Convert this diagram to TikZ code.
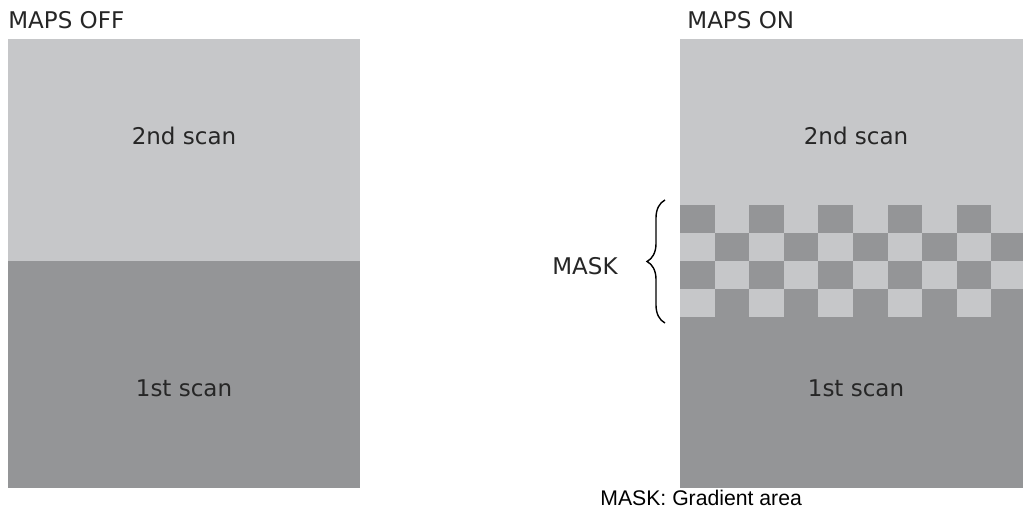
\documentclass[tikz,border=0pt]{standalone}
\usepackage{fontspec}
\setmainfont{DejaVu Sans}
\newfontfamily\arialfont{Liberation Sans}
\usepackage{tikz}
\usetikzlibrary{positioning,decorations.pathreplacing}
\definecolor{scanlight}{HTML}{C6C7C9}
\definecolor{scandark}{HTML}{949597}

\begin{document}
\begin{tikzpicture}[x=0.5pt,y=-0.5pt,
    lbl/.style={inner sep=0pt,font=\fontsize{11.5}{13}\selectfont,text=black!85}]
        \useasboundingbox (0,0) rectangle (1023,512);
        % maps off
        \fill[scanlight] (8,39) rectangle (360,261);
        \fill[scandark] (8,261) rectangle (360,488);
        \node[lbl,anchor=west] (offtitle) at (8,20) {MAPS OFF};
        \node[lbl] (off2nd) at (184,136) {2nd scan};
        \node[lbl] (off1st) at (184,388) {1st scan};
        % maps on
        \fill[scanlight] (680,39) rectangle (1023,317);
        \fill[scandark] (680,317) rectangle (1023,488);
        \foreach \r in {0,...,3}
          \foreach \c in {0,...,9} {
            \pgfmathtruncatemacro{\odd}{mod(\r+\c,2)}
            \ifnum\odd=0
              \fill[scandark] ({680+\c*34.6},{205+\r*28}) rectangle ++(34.6,28);
            \fi
          }
        \node[lbl,anchor=west] (ontitle) at (687,20) {MAPS ON};
        \node[lbl] (on2nd) at (856,136) {2nd scan};
        \node[lbl] (on1st) at (856,388) {1st scan};
        % mask brace
        \coordinate (bracebot) at (665,323);
        \coordinate (bracetop) at (665,200);
        \draw[line width=0.7pt,decorate,decoration={brace,amplitude=9pt}] (bracebot) -- (bracetop);
        \node[lbl] (masklbl) at (585,266) {MASK};
        \node[inner sep=0pt,anchor=west,font=\arialfont\fontsize{10.6}{12}\selectfont] (masknote) at (600,498) {MASK: Gradient area};
      \end{tikzpicture}
\end{document}
